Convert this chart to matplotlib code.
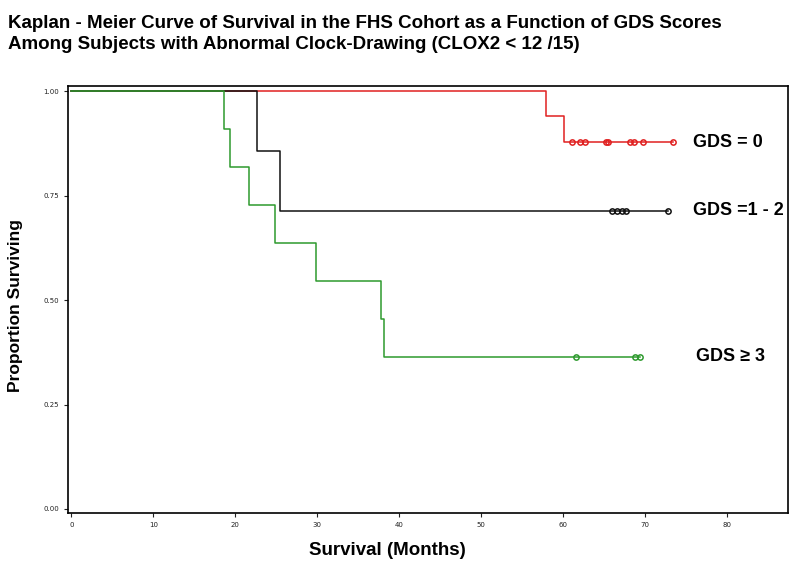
import numpy as np
import matplotlib
matplotlib.use("Agg")
import matplotlib.pyplot as plt
from matplotlib import font_manager

names = {f.name for f in font_manager.fontManager.ttflist}
narrow = "Liberation Sans Narrow" if "Liberation Sans Narrow" in names else "Liberation Sans"

# ---- data ----
green_times = [0, 18.6, 19.4, 21.7, 24.8, 29.8, 37.8, 38.1]
green_surv = [1.0, 0.909, 0.818, 0.727, 0.636, 0.545, 0.455, 0.364]
green_end = 69.3
green_censor = [61.5, 68.8, 69.3]

black_times = [0, 22.7, 25.4]
black_surv = [1.0, 0.857, 0.714]
black_end = 72.8
black_censor = [65.9, 66.6, 67.2, 67.6, 72.8]

red_times = [0, 57.9, 60.1]
red_surv = [1.0, 0.941, 0.878]
red_end = 73.4
red_censor = [61.1, 62.0, 62.6, 65.2, 65.5, 68.1, 68.6, 69.7, 73.4]

labels = ["GDS = 0", "GDS =1 - 2", "GDS \u2265 3"]
xticks = [0, 10, 20, 30, 40, 50, 60, 70, 80]
yticks = [0.0, 0.25, 0.5, 0.75, 1.0]

fig = plt.figure(figsize=(8, 5.74), dpi=100)
ax = fig.add_axes([0.085, 0.106, 0.90, 0.744])

def draw(times, surv, end, cens, color, lw=1.1):
    t = list(times) + [end]
    s = list(surv) + [surv[-1]]
    ax.step(t, s, where="post", color=color, lw=lw)
    idx = np.searchsorted(np.array(times), np.array(cens), side="right") - 1
    cy = np.array(surv)[idx]
    ax.plot(cens, cy, "o", ms=3.8, mfc="none", mec=color, mew=1.1, ls="none")

draw(red_times, red_surv, red_end, red_censor, "#e02020")
draw(black_times, black_surv, black_end, black_censor, "#111111")
draw(green_times, green_surv, green_end, green_censor, "#2e9a2e")

ax.set_xlim(-0.4, 87.4)
ax.set_ylim(-0.01, 1.012)
ax.set_xticks(xticks)
ax.set_xticklabels([str(v) for v in xticks])
ax.set_yticks(yticks)
ax.set_yticklabels([f"{v:.2f}" for v in yticks])
ax.tick_params(axis="both", labelsize=5, length=3, width=0.8, direction="out", colors="#222222")
for sp in ax.spines.values():
    sp.set_linewidth(1.2)

lab_font = dict(fontsize=13, fontweight="bold", family=[narrow, "DejaVu Sans"])
ax.text(75.8, red_surv[-1], labels[0], va="center", ha="left", **lab_font)
ax.text(75.8, black_surv[-1], labels[1], va="center", ha="left", **lab_font)
ax.text(76.2, green_surv[-1], labels[2], va="center", ha="left", **lab_font)

ax.set_xlabel("Survival (Months)", fontsize=13.5, fontweight="bold", family=narrow)
ax.xaxis.set_label_coords(0.443, -0.068)
ax.set_ylabel("Proportion Surviving", fontsize=12.5, fontweight="bold", family=narrow)
ax.yaxis.set_label_coords(-0.063, 0.487)

fig.text(0.01, 0.959, "Kaplan - Meier Curve of Survival in the FHS Cohort as a Function of GDS Scores",
         fontsize=13.5, fontweight="bold", family=narrow, va="center", ha="left")
fig.text(0.01, 0.923, "Among Subjects with Abnormal Clock-Drawing (CLOX2 < 12 /15)",
         fontsize=13.5, fontweight="bold", family=narrow, va="center", ha="left")

fig.savefig("out.png", dpi=100)
